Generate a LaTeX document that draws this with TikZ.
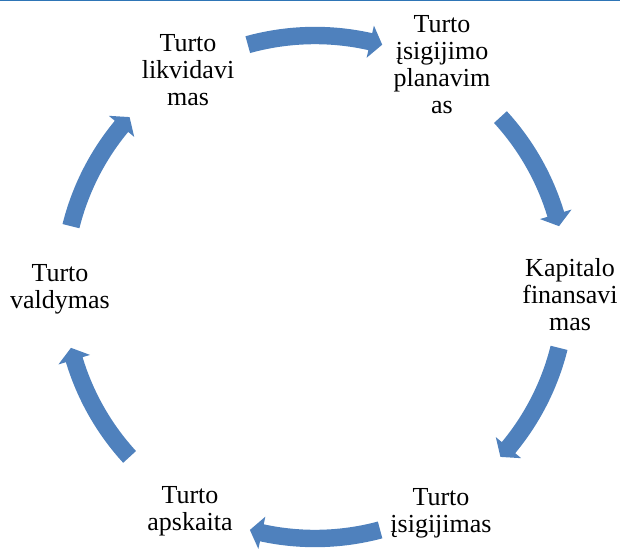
\documentclass[tikz,border=0pt]{standalone}
\usepackage{fontspec}
\setmainfont{Liberation Serif}
\definecolor{arrowblue}{RGB}{79,129,189}
\definecolor{ruleblue}{RGB}{46,117,182}
\begin{document}
\begin{tikzpicture}[x=1pt, y=1pt, phase node/.style={text width=130pt,align=center,inner sep=0pt,font=\fontsize{26}{27}\selectfont}, cycle arrow/.style={fill=arrowblue}]
\useasboundingbox (-315,-261) rectangle (305,287);
\draw[ruleblue, line width=1.4pt] (-315,286.3) -- (305,286.3);
\node[phase node] (likvid) at (-127,216.8) {Turto\\likvidavi\\mas};
\node[phase node] (planav) at (127,222.1) {Turto\\įsigijimo\\planavim\\as};
\node[phase node] (kapit) at (255,-7.7) {Kapitalo\\finansavi\\mas};
\node[phase node] (isigij) at (126,-226.5) {Turto\\įsigijimas};
\node[phase node] (apsk) at (-125,-224.7) {Turto\\apskaita};
\node[phase node] (valdym) at (-255,-2) {Turto\\valdymas};
% thick arrows round the cycle, clockwise
\foreach \tail/\tip in {105.5/74.5, 42.5/14, -14/-42.5, -75/-105, -137.5/-166, 166/137.5}
{
  \pgfmathsetmacro{\base}{\tip+2.8}
  \fill[cycle arrow] (\tail:242.8pt) arc[start angle=\tail, end angle=\base, radius=242.8pt]
    -- (\base:235pt) -- (\tip:251.5pt) -- (\base:268pt) -- (\base:260.2pt)
    arc[start angle=\base, end angle=\tail, radius=260.2pt] -- cycle;
}
\end{tikzpicture}
\end{document}
